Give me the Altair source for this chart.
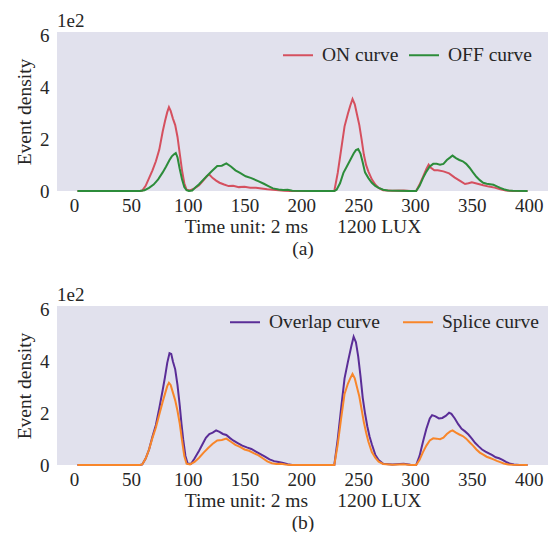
import altair as alt
import pandas as pd

# ---- panel (a): ON / OFF curves (values in units of 1e2) ----
on_t = [3, 58, 60, 63, 66, 69, 72, 75, 78, 80, 82, 83.5, 85, 87, 89, 91, 93, 95, 97, 99,
        102, 106, 110, 114, 117, 119, 122, 125, 128, 132, 136, 140, 145, 150, 155, 160, 165, 170, 175, 180,
        185, 190, 200, 215, 229, 232, 235, 238, 241, 243, 245, 247, 249, 251, 253, 255, 257, 259, 262, 265,
        268, 272, 280, 290, 296, 301, 304, 307, 310, 312, 314, 317, 320, 325, 330, 335, 340, 344, 347, 350,
        355, 360, 365, 370, 375, 380, 386, 399]
on_v = [0, 0, 0.02, 0.2, 0.5, 0.8, 1.15, 1.6, 2.3, 2.7, 3.05, 3.24, 3.1, 2.8, 2.55, 2.1, 1.45, 0.8, 0.3, 0.05,
        0.02, 0.1, 0.22, 0.42, 0.58, 0.64, 0.5, 0.4, 0.32, 0.25, 0.19, 0.2, 0.15, 0.16, 0.13, 0.13, 0.1, 0.07, 0.05, 0.03,
        0.01, 0, 0, 0, 0, 0.7, 1.6, 2.5, 3.0, 3.3, 3.56, 3.35, 2.95, 2.55, 2.0, 1.4, 1.0, 0.75, 0.45, 0.25,
        0.12, 0.03, 0.01, 0.02, 0, 0, 0.25, 0.55, 0.85, 1.02, 0.9, 0.8, 0.8, 0.76, 0.68, 0.52, 0.38, 0.27, 0.3, 0.34,
        0.28, 0.22, 0.17, 0.13, 0.07, 0.02, 0, 0]

off_t = [3, 58, 62, 66, 70, 74, 78, 81, 84, 86, 88, 89.5, 91, 93, 95, 97, 99, 101, 104, 107,
         110, 114, 118, 122, 126, 130, 134, 138, 142, 146, 151, 156, 162, 167, 171, 175, 180, 184, 188, 192,
         210, 229, 231, 234, 237, 240, 243, 246, 248, 250, 252, 254, 256, 259, 262, 265, 268, 272, 276, 285,
         295, 301, 304, 307, 310, 313, 316, 319, 322, 325, 328, 331, 333, 336, 339, 342, 345, 348, 351, 354,
         357, 360, 363, 366, 369, 372, 375, 378, 382, 386, 399]
off_v = [0, 0, 0.03, 0.12, 0.25, 0.45, 0.72, 0.95, 1.2, 1.34, 1.42, 1.47, 1.3, 0.85, 0.45, 0.15, 0.03, 0, 0.02, 0.15,
         0.26, 0.45, 0.63, 0.8, 0.97, 0.98, 1.07, 0.95, 0.8, 0.7, 0.57, 0.5, 0.38, 0.28, 0.19, 0.1, 0.06, 0.04, 0.05, 0.01,
         0, 0, 0.05, 0.3, 0.7, 0.95, 1.2, 1.45, 1.58, 1.62, 1.45, 1.1, 0.72, 0.5, 0.32, 0.2, 0.12, 0.05, 0.02, 0.01,
         0, 0, 0.2, 0.5, 0.75, 0.95, 1.05, 1.05, 1.02, 1.05, 1.2, 1.3, 1.37, 1.27, 1.2, 1.15, 1.05, 0.9, 0.72, 0.55,
         0.42, 0.32, 0.28, 0.26, 0.24, 0.18, 0.12, 0.07, 0.02, 0.01, 0]

# ---- panel (b): Overlap / Splice curves ----
ov_t = [3, 58, 60, 63, 66, 69, 72, 75, 78, 80, 82, 84, 85.5, 87, 89, 91, 93, 94.5, 96, 98,
        100, 103, 106, 110, 113, 116, 119, 122, 125, 128, 131, 134, 137, 140, 144, 148, 152, 156, 160, 164,
        168, 172, 176, 180, 184, 188, 192, 210, 229, 232, 235, 238, 241, 244, 246, 248, 250, 252, 254, 256,
        258, 260, 262, 265, 268, 272, 280, 290, 296, 301, 304, 307, 310, 313, 315, 318, 321, 324, 327, 330,
        332, 335, 338, 341, 344, 347, 350, 353, 356, 359, 362, 365, 368, 371, 374, 377, 380, 383, 387, 392, 399]
ov_v = [0, 0, 0.02, 0.25, 0.6, 1.1, 1.55, 2.2, 2.9, 3.4, 3.95, 4.33, 4.3, 4.0, 3.7, 3.1, 2.3, 1.6, 1.0, 0.35,
        0.05, 0.05, 0.25, 0.55, 0.8, 1.05, 1.2, 1.25, 1.34, 1.28, 1.2, 1.16, 1.05, 0.95, 0.85, 0.75, 0.68, 0.62, 0.52, 0.42,
        0.32, 0.22, 0.15, 0.12, 0.08, 0.03, 0, 0, 0, 1.0, 2.2, 3.35, 4.0, 4.6, 4.96, 4.75, 4.2, 3.45, 2.6, 2.0,
        1.5, 1.1, 0.8, 0.4, 0.19, 0.05, 0.02, 0.05, 0.01, 0, 0.35, 0.9, 1.4, 1.8, 1.93, 1.88, 1.8, 1.82, 1.9, 2.02,
        1.98, 1.8, 1.58, 1.4, 1.3, 1.18, 1.02, 0.85, 0.72, 0.6, 0.52, 0.45, 0.38, 0.3, 0.26, 0.2, 0.12, 0.06, 0.02, 0, 0]

sp_t = [3, 58, 60, 63, 66, 69, 72, 75, 78, 80, 82, 83.5, 85, 87, 89, 91, 93, 95, 97, 99,
        102, 106, 110, 114, 118, 122, 126, 130, 134, 138, 142, 146, 150, 154, 158, 162, 166, 170, 174, 178,
        182, 186, 190, 210, 229, 232, 235, 238, 241, 243, 245, 247, 249, 251, 253, 255, 257, 259, 262, 265,
        268, 272, 280, 290, 296, 301, 304, 307, 310, 313, 316, 319, 322, 325, 328, 331, 333, 336, 339, 342,
        345, 348, 351, 354, 357, 360, 363, 366, 369, 372, 375, 378, 382, 386, 399]
sp_v = [0, 0, 0.02, 0.25, 0.6, 1.05, 1.45, 1.95, 2.45, 2.75, 3.05, 3.18, 3.1, 2.8, 2.5, 2.1, 1.6, 0.95, 0.35, 0.05,
        0.02, 0.12, 0.28, 0.48, 0.66, 0.82, 0.95, 0.97, 1.02, 0.9, 0.78, 0.7, 0.6, 0.55, 0.46, 0.38, 0.26, 0.14, 0.07, 0.04,
        0.05, 0.02, 0, 0, 0, 0.8, 1.8, 2.75, 3.15, 3.35, 3.52, 3.35, 3.0, 2.65, 2.15, 1.65, 1.25, 0.9, 0.5, 0.28,
        0.13, 0.04, 0.01, 0.03, 0, 0, 0.2, 0.5, 0.75, 0.95, 1.03, 1.02, 1.0, 1.06, 1.2, 1.3, 1.34, 1.25, 1.18, 1.12,
        1.02, 0.88, 0.75, 0.6, 0.48, 0.4, 0.32, 0.27, 0.22, 0.16, 0.11, 0.06, 0.02, 0.01, 0]

x_ticks = [0, 50, 100, 150, 200, 250, 300, 350, 400]
y_ticks = [0, 2, 4, 6]
labels_a = ["ON curve", "OFF curve"]
colors_a = ["#D5505F", "#2C8C3A"]
labels_b = ["Overlap curve", "Splice curve"]
colors_b = ["#5A2D97", "#F8862A"]
offset_text = "1e2"
x_title = "Time unit: 2 ms\u00a0\u00a0\u00a0\u00a0\u00a0\u00a01200 LUX"

FONT = "Liberation Serif"
TXT = "#262626"
W, H = 491, 159


def panel(series, labels, colors, field, sub, lx, ly, colpad):
    xs = alt.X("t:Q", scale=alt.Scale(domain=[-15, 417], nice=False, zero=False),
               axis=alt.Axis(values=x_ticks, title=[x_title, sub], labelPadding=5,
                             titlePadding=2, titleLineHeight=22))
    ys = alt.Y("v:Q", scale=alt.Scale(domain=[0, 6.15], nice=False),
               axis=alt.Axis(values=y_ticks, title="Event density", labelPadding=8,
                             titlePadding=5))
    cs = alt.Color(f"{field}:N", scale=alt.Scale(domain=labels, range=colors),
                   legend=alt.Legend(orient="none", legendX=lx, legendY=ly, direction="horizontal",
                                     title=None, symbolType="stroke", symbolSize=900,
                                     symbolStrokeWidth=2, labelFont=FONT, labelFontSize=19.5,
                                     labelColor=TXT, labelOffset=8, columnPadding=colpad, padding=0))
    layers = []
    for (t, v), lab in zip(series, labels):
        df = pd.DataFrame({"t": t, "v": v, field: lab})
        layers.append(alt.Chart(df).mark_line(strokeWidth=2).encode(x=xs, y=ys, color=cs))
    txt = alt.Chart(pd.DataFrame({"s": [offset_text]})).mark_text(
        font=FONT, fontSize=19, color=TXT, align="left", baseline="alphabetic"
    ).encode(text="s:N", x=alt.value(0), y=alt.value(-5))
    return alt.layer(*layers, txt).properties(width=W, height=H)


pa = panel([(on_t, on_v), (off_t, off_v)], labels_a, colors_a, "series_a", "(a)", 225, 7, 6)
pb = panel([(ov_t, ov_v), (sp_t, sp_v)], labels_b, colors_b, "series_b", "(b)", 172, 0, 19)

chart = alt.vconcat(pa, pb, spacing=28).resolve_scale(color="independent").properties(
    padding={"left": 14, "top": 12, "right": 0, "bottom": 0}
).configure_view(fill="#E1E1ED", strokeWidth=0).configure_axis(
    labelFont=FONT, labelFontSize=19, labelColor=TXT, titleFont=FONT, titleFontSize=19.5,
    titleFontWeight="normal", titleColor=TXT, domain=False, ticks=False, grid=False
)

chart.save("out.html", embed_options={"renderer": "svg", "actions": False})
